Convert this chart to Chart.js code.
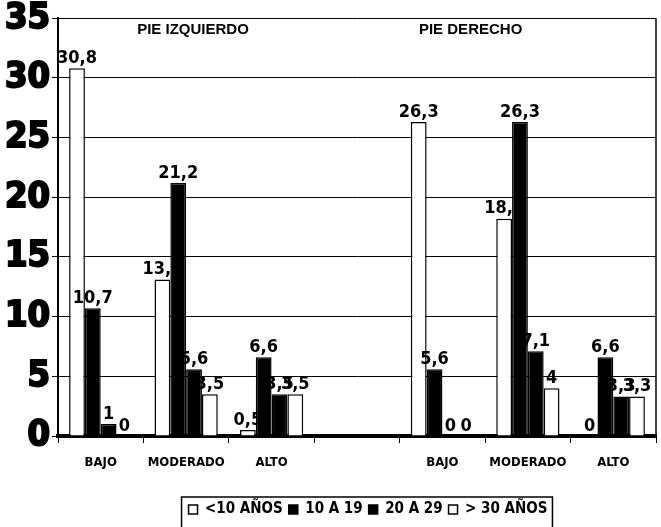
<!DOCTYPE html>
<html>
<head>
<meta charset="utf-8">
<script src="https://cdn.jsdelivr.net/npm/chart.js@4"></script>
<style>
  body { margin: 0; background: #fff; }
  #wrap { width: 661px; height: 527px; }
</style>
</head>
<body>
<div id="wrap"><canvas id="myChart" width="661" height="527"></canvas></div>
<script>
// categories per foot, empty slot separates the two groups
const categories = ['BAJO', 'MODERADO', 'ALTO', '', 'BAJO', 'MODERADO', 'ALTO'];
const seriesNames = ['<10 AÑOS', '10 A 19', '20 A 29', '> 30 AÑOS'];
const menores10 = [30.8, 13.1, 0.5, null, 26.3, 18.2, 0];
const de10a19 = [10.7, 21.2, 6.6, null, 5.6, 26.3, 6.6];
const de20a29 = [1, 5.6, 3.5, null, 0, 7.1, 3.3];
const mayores30 = [0, 3.5, 3.5, null, 0, 4, 3.3];
const groupTitles = ['PIE IZQUIERDO', 'PIE DERECHO'];
const groupTitleAt = [1.08, 4.33];

const narrow = '"DejaVu Sans Condensed", "Liberation Sans", sans-serif';

const fills = ['#ffffff', '#000000', '#000000', '#ffffff'];
const series = [menores10, de10a19, de20a29, mayores30];

const data = {
    labels: categories,
    datasets: series.map((vals, i) => ({
        label: seriesNames[i],
        data: vals,
        backgroundColor: fills[i],
        borderColor: '#000000',
        borderWidth: 1.5,
        barPercentage: 1,
        categoryPercentage: 0.74
    }))
};

// number on top of every bar, decimal comma
const valueLabels = {
    id: 'valueLabels',
    afterDatasetsDraw(chart) {
        const ctx = chart.ctx;
        ctx.save();
        ctx.font = 'bold 18px ' + narrow;
        ctx.fillStyle = '#000';
        ctx.textAlign = 'center';
        ctx.textBaseline = 'bottom';
        chart.data.datasets.forEach((ds, i) => {
            chart.getDatasetMeta(i).data.forEach((bar, j) => {
                const v = ds.data[j];
                if (v === null) return;
                ctx.fillText(String(v).replace('.', ','), bar.x, bar.y - 1);
            });
        });
        ctx.restore();
    }
};

// foot captions, right border and legend frame
const decorations = {
    id: 'decorations',
    afterUpdate(chart) {
        // legend sits a bit right of centre
        const lg = chart.legend;
        lg.left += 40;
        lg.right += 40;
    },
    afterDraw(chart) {
        const ctx = chart.ctx;
        const area = chart.chartArea;
        const x = chart.scales.x;
        ctx.save();
        ctx.strokeStyle = '#000';
        ctx.lineWidth = 1.5;
        ctx.beginPath();
        ctx.moveTo(area.right, area.top);
        ctx.lineTo(area.right, area.bottom);
        ctx.stroke();

        ctx.font = 'bold 15px "Liberation Sans", sans-serif';
        ctx.fillStyle = '#000';
        ctx.textAlign = 'center';
        ctx.textBaseline = 'middle';
        groupTitles.forEach((t, k) => {
            ctx.fillText(t, x.getPixelForValue(groupTitleAt[k]), area.top + 12);
        });

        const lg = chart.legend;
        const mid = (lg.left + lg.right) / 2;
        const w = lg.lineWidths[0];
        ctx.lineWidth = 1.5;
        ctx.strokeRect(mid - w / 2 - 4, lg.top + 1, w + 6, 60);
        ctx.restore();
    }
};

const myChart = new Chart(document.getElementById('myChart').getContext('2d'), {
    type: 'bar',
    data: data,
    options: {
        responsive: false,
        animation: false,
        layout: { padding: { top: 2, right: 5, left: 0, bottom: 0 } },
        plugins: {
            tooltip: { enabled: false },
            legend: {
                position: 'bottom',
                labels: {
                    color: '#000',
                    font: { family: narrow, size: 15, weight: 'bold' },
                    boxWidth: 9,
                    boxHeight: 9,
                    padding: 6
                }
            }
        },
        scales: {
            x: {
                grid: { drawOnChartArea: false, color: '#000', tickLength: 7 },
                border: { color: '#000', width: 4 },
                ticks: {
                    color: '#000',
                    font: { family: narrow, size: 13, weight: 'bold' },
                    padding: 12,
                    maxRotation: 0
                },
                afterFit(scale) { scale.height = 60; }
            },
            y: {
                min: 0,
                max: 35,
                grid: { color: '#000', lineWidth: 1, tickLength: 6 },
                border: { color: '#000', width: 2 },
                ticks: {
                    stepSize: 5,
                    color: '#000',
                    font: { family: narrow, size: 36, weight: 'bold', lineHeight: 0.9 },
                    textStrokeColor: '#000',
                    textStrokeWidth: 2,
                    padding: 2
                },
                afterFit(scale) { scale.width = 58; }
            }
        }
    },
    plugins: [valueLabels, decorations]
});
</script>
</body>
</html>
